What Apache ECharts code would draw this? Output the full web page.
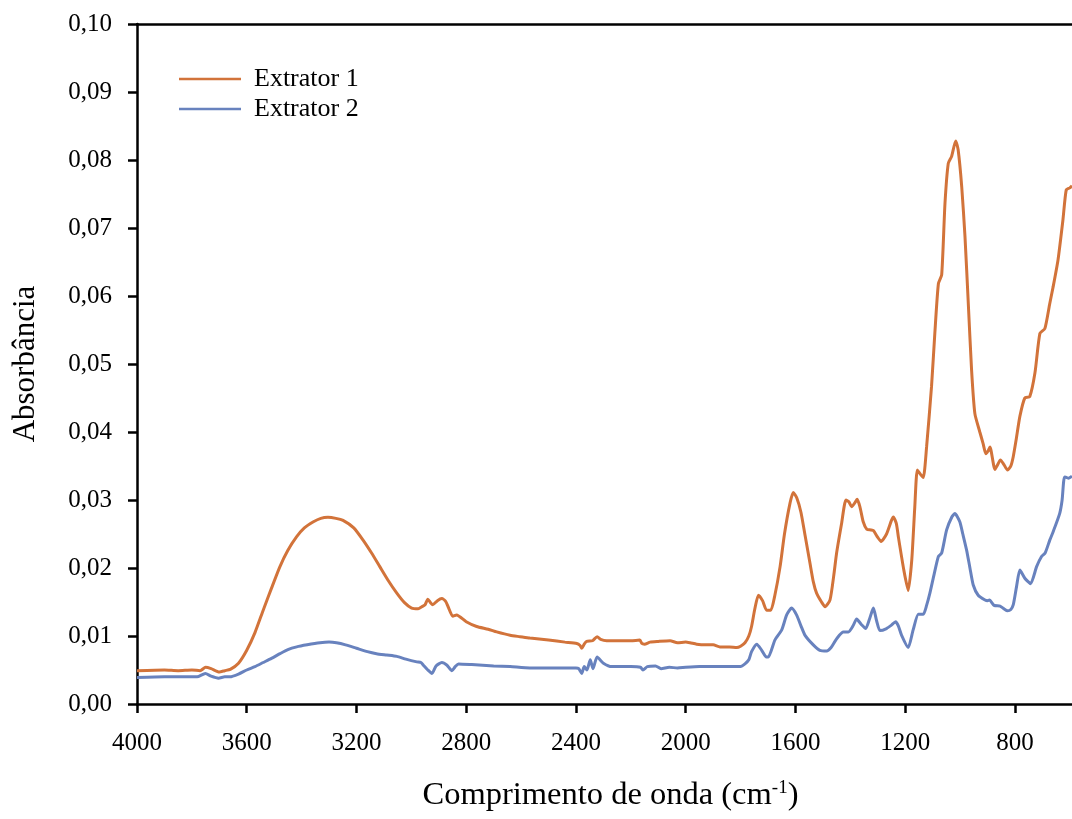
<!DOCTYPE html>
<html>
<head>
<meta charset="utf-8">
<title>Absorbância FTIR</title>
<script src="https://cdn.jsdelivr.net/npm/echarts@6/dist/echarts.min.js"></script>
<style>
  html, body { margin: 0; padding: 0; background: #fff; }
  #chart { width: 1072px; height: 819px; }
</style>
</head>
<body>
<div id="chart"></div>
<script>
// Extrator 1 spectrum: wavenumber (cm-1) and absorbance
const wn1 = [4000,3900,3850,3800,3770,3750,3730,3700,3680,3660,3630,3600,3570,3540,3510,3479,3450,3418,3390,3357,3330,3304,3275,3249,3210,3176,3145,3115,3085,3053,3025,2999,2975,2962,2950,2940,2930,2922,2905,2889,2875,2866,2849,2835,2800,2762,2720,2689,2640,2604,2568,2500,2440,2397,2385,2379,2370,2361,2340,2323,2310,2288,2250,2200,2167,2160,2150,2130,2100,2057,2030,2000,1984,1960,1930,1900,1875,1840,1814,1800,1784,1770,1760,1748,1735,1720,1705,1690,1675,1656,1640,1620,1608,1595,1580,1565,1547,1535,1523,1505,1492,1474,1460,1450,1432,1416,1405,1395,1385,1375,1365,1353,1340,1325,1316,1300,1288,1268,1250,1243,1232,1225,1205,1189,1176,1165,1156,1145,1134,1122,1104,1092,1079,1067,1055,1043,1031,1016,1007,994,982,970,958,946,928,916,906,898,891,873,863,853,840,827,815,806,795,782,764,746,727,709,691,673,661,643,625,613,600,592];
const abs1 = [0.0049,0.0050,0.0049,0.0050,0.0049,0.0054,0.0052,0.0047,0.0049,0.0051,0.0060,0.0079,0.0105,0.0138,0.0170,0.0202,0.0226,0.0246,0.0259,0.0268,0.0273,0.02745,0.0273,0.0270,0.0259,0.0241,0.0222,0.0202,0.0182,0.0163,0.0149,0.0141,0.0140,0.0143,0.0146,0.0154,0.0149,0.0146,0.0152,0.0155,0.0151,0.0143,0.0129,0.0131,0.0121,0.0114,0.0110,0.0106,0.0101,0.0099,0.0097,0.0094,0.0091,0.0089,0.0086,0.0082,0.0088,0.0092,0.0093,0.0099,0.0095,0.0093,0.0093,0.0093,0.0094,0.0089,0.0088,0.0091,0.0092,0.0093,0.0090,0.0091,0.0090,0.0088,0.0087,0.0087,0.0084,0.0084,0.0083,0.0085,0.0090,0.0100,0.0114,0.0140,0.0160,0.0152,0.0138,0.0138,0.0160,0.0202,0.0250,0.0295,0.0311,0.0303,0.0282,0.0248,0.0207,0.0180,0.0163,0.0150,0.0143,0.0153,0.0190,0.0222,0.0265,0.0300,0.0297,0.0290,0.0295,0.0301,0.0290,0.0268,0.0257,0.0256,0.0255,0.0245,0.0239,0.0250,0.0270,0.0275,0.0265,0.0246,0.0197,0.0167,0.0212,0.0290,0.0344,0.0338,0.0333,0.0378,0.0467,0.0545,0.0618,0.0631,0.0736,0.0795,0.0805,0.0828,0.0815,0.0761,0.0687,0.0589,0.0491,0.0427,0.0400,0.0383,0.0368,0.0372,0.0378,0.0345,0.0352,0.0359,0.0352,0.0344,0.0350,0.0364,0.0390,0.0423,0.0450,0.0452,0.0487,0.0545,0.0552,0.0589,0.0613,0.0653,0.0712,0.0756,0.0759,0.0762];

// Extrator 2 spectrum
const wn2 = [4000,3900,3800,3781,3751,3730,3703,3680,3661,3630,3600,3570,3540,3510,3479,3450,3418,3380,3333,3300,3273,3240,3200,3160,3127,3090,3053,3020,2980,2965,2956,2940,2925,2910,2889,2870,2852,2840,2828,2780,2700,2640,2568,2500,2400,2390,2379,2370,2360,2348,2338,2323,2300,2270,2200,2165,2156,2140,2110,2090,2060,2030,2000,1950,1900,1850,1814,1800,1784,1770,1760,1741,1723,1706,1699,1675,1650,1632,1614,1596,1580,1565,1535,1511,1486,1470,1456,1440,1426,1407,1390,1377,1360,1344,1330,1316,1304,1292,1268,1250,1235,1225,1213,1189,1171,1152,1134,1122,1110,1095,1079,1067,1049,1030,1019,1001,990,976,964,952,934,909,900,893,876,854,840,827,815,806,794,782,764,743,721,703,690,673,661,637,628,619,605,592];
const abs2 = [0.0039,0.0040,0.0040,0.0040,0.0045,0.0041,0.0038,0.0040,0.0040,0.0044,0.0050,0.0055,0.0061,0.0067,0.0074,0.0080,0.0084,0.0087,0.0090,0.0091,0.0090,0.0087,0.0082,0.0077,0.0074,0.0072,0.0070,0.0066,0.0062,0.0061,0.0057,0.0050,0.0045,0.0056,0.0061,0.0057,0.0049,0.0055,0.0059,0.0058,0.0056,0.0055,0.0053,0.0053,0.0053,0.0052,0.0045,0.0055,0.0050,0.0065,0.0052,0.0069,0.0060,0.0055,0.0055,0.0054,0.0050,0.0055,0.0056,0.0052,0.0054,0.0053,0.0054,0.0055,0.0055,0.0055,0.0055,0.0055,0.0059,0.0065,0.0077,0.0088,0.0079,0.0069,0.0069,0.0094,0.0109,0.0131,0.0141,0.0131,0.0115,0.0101,0.0087,0.0079,0.0078,0.0083,0.0092,0.0101,0.0106,0.0106,0.0115,0.0125,0.0117,0.0111,0.0125,0.0141,0.0122,0.0108,0.0111,0.0116,0.0121,0.0115,0.0101,0.0083,0.0109,0.0132,0.0132,0.0145,0.0163,0.0190,0.0217,0.0222,0.0256,0.0275,0.0280,0.0268,0.0250,0.0226,0.0200,0.0175,0.0160,0.0153,0.0152,0.0153,0.0145,0.0144,0.0140,0.0137,0.0139,0.0146,0.0173,0.0197,0.0185,0.0177,0.0202,0.0217,0.0222,0.0241,0.0253,0.0280,0.0300,0.0334,0.0332,0.0335];

// Axis ticks
const xTicks = [4000, 3600, 3200, 2800, 2400, 2000, 1600, 1200, 800];
const xRange = [592, 4000];

const seriesNames = ['Extrator 1', 'Extrator 2'];
const seriesColors = ['#D2733A', '#6882BE'];

const pairs = (xs, ys) => xs.map((x, i) => [x, ys[i]]);
const FONT = '"Liberation Serif", "Times New Roman", serif';
const AXIS_LINE = { color: '#000', width: 2.5 };

const chart = echarts.init(document.getElementById('chart'), null, { renderer: 'canvas' });

chart.setOption({
  animation: false,
  backgroundColor: '#ffffff',
  textStyle: { fontFamily: FONT, color: '#000' },
  grid: { left: 137, top: 24, bottom: 115, right: 0, containLabel: false },
  legend: {
    orient: 'vertical',
    left: 179, top: 66,
    padding: 0,
    icon: 'rect',
    itemWidth: 62, itemHeight: 2.6, itemGap: 4,
    textStyle: { fontFamily: FONT, fontSize: 26, color: '#000', lineHeight: 26, padding: [0, 0, 0, 8] },
    data: seriesNames
  },
  xAxis: [
    {
      type: 'value',
      inverse: true,
      min: xRange[0], max: xRange[1],
      splitLine: { show: false },
      axisLine: { lineStyle: AXIS_LINE },
      axisTick: { inside: false, length: 9, lineStyle: AXIS_LINE, customValues: xTicks },
      axisLabel: {
        margin: 27, fontFamily: FONT, fontSize: 25, color: '#000',
        customValues: xTicks, formatter: v => String(v)
      },
      name: 'Comprimento de onda (cm{sup|-1})',
      nameLocation: 'middle',
      nameGap: 75,
      nameTextStyle: {
        fontFamily: FONT, fontSize: 32.5, color: '#000', padding: [0, 0, 0, 12],
        rich: { sup: { fontFamily: FONT, fontSize: 19, color: '#000', padding: [0, 0, 14, 0] } }
      }
    },
    {
      // top frame line
      type: 'value', position: 'top', inverse: true,
      min: xRange[0], max: xRange[1],
      splitLine: { show: false },
      axisLine: { onZero: false, lineStyle: AXIS_LINE },
      axisTick: { show: false },
      axisLabel: { show: false }
    }
  ],
  yAxis: {
    type: 'value',
    min: 0, max: 0.1, interval: 0.01,
    splitLine: { show: false },
    axisLine: { lineStyle: AXIS_LINE },
    axisTick: { inside: false, length: 9, lineStyle: AXIS_LINE },
    axisLabel: {
      margin: 25, fontFamily: FONT, fontSize: 25, color: '#000',
      formatter: v => v.toFixed(2).replace('.', ',')
    },
    name: 'Absorbância',
    nameLocation: 'middle',
    nameGap: 96,
    nameTextStyle: { fontFamily: FONT, fontSize: 31, color: '#000' }
  },
  series: [
    {
      name: seriesNames[0], type: 'line', symbol: 'none', smooth: 0.2,
      data: pairs(wn1, abs1),
      lineStyle: { color: seriesColors[0], width: 3 },
      itemStyle: { color: seriesColors[0] }
    },
    {
      name: seriesNames[1], type: 'line', symbol: 'none', smooth: 0.2,
      data: pairs(wn2, abs2),
      lineStyle: { color: seriesColors[1], width: 3 },
      itemStyle: { color: seriesColors[1] }
    }
  ]
});
</script>
</body>
</html>
